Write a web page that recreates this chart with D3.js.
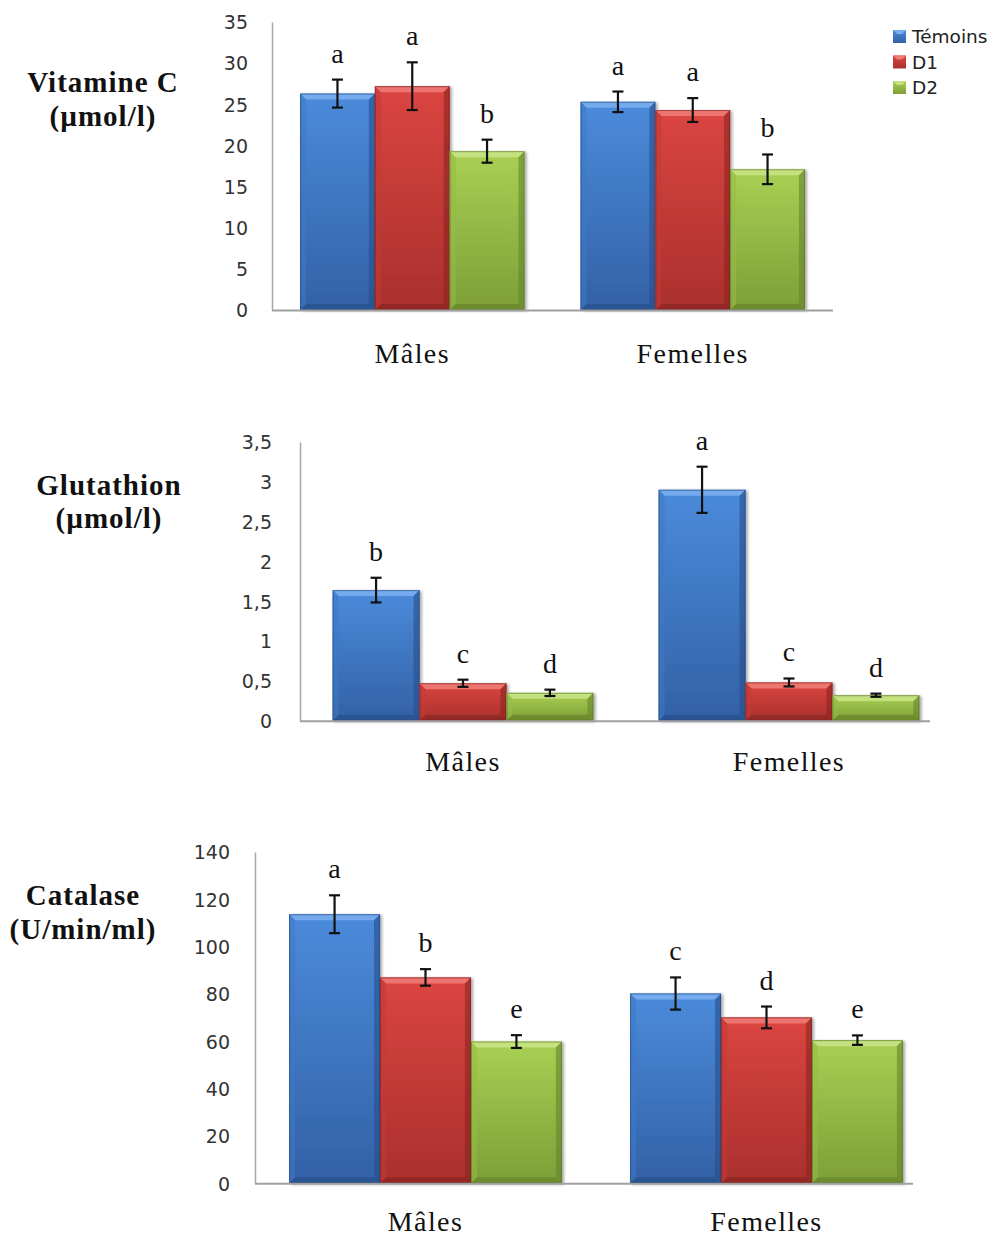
<!DOCTYPE html>
<html>
<head>
<meta charset="utf-8">
<script src="https://cdn.jsdelivr.net/npm/d3@7"></script>
<style>
  html, body { margin: 0; padding: 0; background: #fff; }
  svg { display: block; }
</style>
</head>
<body>
<svg id="chart" width="998" height="1236"></svg>
<script>
// Groups and treatments
const groups = ["Mâles", "Femelles"];
const series = ["Témoins", "D1", "D2"];

// Vitamine C (µmol/l): [Mâles, Femelles] per treatment
const vitCTemoins = [26.3, 25.3];
const vitCD1 = [27.2, 24.3];
const vitCD2 = [19.3, 17.1];
const vitCErrTemoins = [1.7, 1.25];
const vitCErrD1 = [2.9, 1.45];
const vitCErrD2 = [1.4, 1.8];
const vitCLetters = [["a", "a", "b"], ["a", "a", "b"]];
const vitCTicks = [0, 5, 10, 15, 20, 25, 30, 35];

// Glutathion (µmol/l)
const gluTemoins = [1.64, 2.90];
const gluD1 = [0.47, 0.48];
const gluD2 = [0.35, 0.32];
const gluErrTemoins = [0.155, 0.29];
const gluErrD1 = [0.045, 0.05];
const gluErrD2 = [0.04, 0.02];
const gluLetters = [["b", "c", "d"], ["a", "c", "d"]];
const gluTicks = [0, 0.5, 1, 1.5, 2, 2.5, 3, 3.5];

// Catalase (U/min/ml)
const catTemoins = [113.7, 80.2];
const catD1 = [87.0, 70.1];
const catD2 = [59.9, 60.5];
const catErrTemoins = [8, 6.8];
const catErrD1 = [3.5, 4.6];
const catErrD2 = [2.7, 2];
const catLetters = [["a", "b", "e"], ["c", "d", "e"]];
const catTicks = [0, 20, 40, 60, 80, 100, 120, 140];

const svg = d3.select("#chart");
const defs = svg.append("defs");

// Colour sets for the bevelled bars
const palette = {
  "Témoins": { top: "#4b8bdb", bot: "#3361a6", light: "#79aef0", side: "#3f78c4", dark: "#284f8a", edge: "#22467c" },
  "D1":      { top: "#db4541", bot: "#a9302c", light: "#ee7a76", side: "#c23a36", dark: "#8a2522", edge: "#7a201d" },
  "D2":      { top: "#a9d054", bot: "#7d9f37", light: "#c6e384", side: "#95bb48", dark: "#66832b", edge: "#5a7526" }
};

series.forEach((s, i) => {
  const c = palette[s];
  const g = defs.append("linearGradient").attr("id", "fill" + i)
    .attr("x1", 0).attr("y1", 0).attr("x2", 0).attr("y2", 1);
  g.append("stop").attr("offset", "0%").attr("stop-color", c.top);
  g.append("stop").attr("offset", "100%").attr("stop-color", c.bot);
});

const shadow = defs.append("filter").attr("id", "shadow")
  .attr("x", "-10%").attr("y", "-10%").attr("width", "130%").attr("height", "130%");
shadow.append("feGaussianBlur").attr("in", "SourceAlpha").attr("stdDeviation", 1.6);
shadow.append("feOffset").attr("dx", 2).attr("dy", 1).attr("result", "ob");
shadow.append("feComponentTransfer").append("feFuncA").attr("type", "linear").attr("slope", 0.35);
const merge = shadow.append("feMerge");
merge.append("feMergeNode");
merge.append("feMergeNode").attr("in", "SourceGraphic");

const fmtComma = d => String(d).replace(".", ",");

function drawPanel(cfg) {
  const g = svg.append("g");
  const values = [cfg.vals[0], cfg.vals[1], cfg.vals[2]];
  const errs = [cfg.errs[0], cfg.errs[1], cfg.errs[2]];

  const y = d3.scaleLinear().domain([0, cfg.max]).range([cfg.y0, cfg.y1]);
  const x0 = d3.scaleBand().domain(groups)
    .range([cfg.axisX, cfg.axisX + 2 * cfg.groupW])
    .paddingInner(0.2).paddingOuter(0.1);
  const x1 = d3.scaleBand().domain(series).range([0, x0.bandwidth()]).padding(0);

  // y axis: labels only, with a plain grey line
  const yAxis = d3.axisLeft(y).tickValues(cfg.ticks).tickSize(0).tickPadding(cfg.tickPad)
    .tickFormat(cfg.fmt);
  const ya = g.append("g").attr("transform", `translate(${cfg.axisX},0)`).call(yAxis);
  ya.select(".domain").attr("stroke", "#a6a6a6").attr("stroke-width", 1.5);
  ya.selectAll("text").attr("font-family", "DejaVu Sans, sans-serif")
    .attr("font-size", 19).attr("fill", "#333").attr("dy", "0.36em");

  // bars
  groups.forEach((grp, gi) => {
    series.forEach((s, si) => {
      const v = values[si][gi];
      const bx = x0(grp) + x1(s);
      const bw = x1.bandwidth();
      const by = y(v);
      const bh = y(0) - by;
      const c = palette[s];
      const b = 6; // bevel depth
      const bar = g.append("g").attr("filter", "url(#shadow)");
      bar.append("rect").attr("x", bx).attr("y", by).attr("width", bw).attr("height", bh)
        .attr("fill", `url(#fill${si})`);
      // bevel facets
      bar.append("polygon")
        .attr("points", [[bx, by], [bx + bw, by], [bx + bw - b, by + b], [bx + b, by + b]].join(" "))
        .attr("fill", c.light).attr("opacity", 0.9);
      bar.append("polygon")
        .attr("points", [[bx, by], [bx + b, by + b], [bx + b, by + bh - b], [bx, by + bh]].join(" "))
        .attr("fill", c.side).attr("opacity", 0.55);
      bar.append("polygon")
        .attr("points", [[bx + bw, by], [bx + bw, by + bh], [bx + bw - b, by + bh - b], [bx + bw - b, by + b]].join(" "))
        .attr("fill", c.dark).attr("opacity", 0.6);
      bar.append("polygon")
        .attr("points", [[bx, by + bh], [bx + b, by + bh - b], [bx + bw - b, by + bh - b], [bx + bw, by + bh]].join(" "))
        .attr("fill", c.dark).attr("opacity", 0.7);
      bar.append("rect").attr("x", bx + 0.5).attr("y", by + 0.5).attr("width", bw - 1).attr("height", bh - 1)
        .attr("fill", "none").attr("stroke", c.edge).attr("stroke-width", 1).attr("opacity", 0.6);

      // error bar
      const e = errs[si][gi];
      const cx = bx + bw / 2;
      const yt = y(v + e), yb = y(v - e);
      const eb = g.append("g").attr("stroke", "#111").attr("stroke-width", 2.2);
      eb.append("line").attr("x1", cx).attr("x2", cx).attr("y1", yt).attr("y2", yb);
      eb.append("line").attr("x1", cx - 5.5).attr("x2", cx + 5.5).attr("y1", yt).attr("y2", yt);
      eb.append("line").attr("x1", cx - 5.5).attr("x2", cx + 5.5).attr("y1", yb).attr("y2", yb);

      // significance letter
      g.append("text").attr("x", cx).attr("y", yt - 17)
        .attr("text-anchor", "middle")
        .attr("font-family", "Liberation Serif, Times New Roman, serif")
        .attr("font-size", 28).attr("fill", "#111")
        .text(cfg.letters[gi][si]);
    });
  });

  // baseline
  g.append("line").attr("x1", cfg.axisX).attr("x2", cfg.axisEnd)
    .attr("y1", y(0) + 0.5).attr("y2", y(0) + 0.5)
    .attr("stroke", "#a0a0a0").attr("stroke-width", 2);

  // category labels
  groups.forEach(grp => {
    g.append("text").attr("x", x0(grp) + x0.bandwidth() / 2).attr("y", cfg.catY)
      .attr("text-anchor", "middle")
      .attr("font-family", "Liberation Serif, Times New Roman, serif")
      .attr("font-size", 28).attr("letter-spacing", 1.4).attr("fill", "#111")
      .text(grp);
  });

  // axis title (two lines, bold serif)
  cfg.title.forEach((t, i) => {
    g.append("text").attr("x", cfg.titleX).attr("y", cfg.titleY + i * cfg.titleGap)
      .attr("text-anchor", "middle")
      .attr("font-family", "Liberation Serif, Times New Roman, serif")
      .attr("font-weight", "bold").attr("font-size", 29).attr("letter-spacing", 1)
      .attr("fill", "#111")
      .text(t);
  });
}

drawPanel({
  vals: [vitCTemoins, vitCD1, vitCD2],
  errs: [vitCErrTemoins, vitCErrD1, vitCErrD2],
  letters: vitCLetters, ticks: vitCTicks, max: 35, fmt: fmtComma,
  y0: 310, y1: 22, axisX: 272, groupW: 280.5, axisEnd: 833, tickPad: 24,
  catY: 363, title: ["Vitamine C", "(µmol/l)"], titleX: 103, titleY: 92, titleGap: 34
});

drawPanel({
  vals: [gluTemoins, gluD1, gluD2],
  errs: [gluErrTemoins, gluErrD1, gluErrD2],
  letters: gluLetters, ticks: gluTicks, max: 3.5, fmt: fmtComma,
  y0: 720.7, y1: 442, axisX: 300, groupW: 326, axisEnd: 930, tickPad: 28,
  catY: 771, title: ["Glutathion", "(µmol/l)"], titleX: 109, titleY: 495, titleGap: 33
});

drawPanel({
  vals: [catTemoins, catD1, catD2],
  errs: [catErrTemoins, catErrD1, catErrD2],
  letters: catLetters, ticks: catTicks, max: 140, fmt: fmtComma,
  y0: 1183.3, y1: 852, axisX: 255, groupW: 341, axisEnd: 913, tickPad: 25,
  catY: 1231, title: ["Catalase", "(U/min/ml)"], titleX: 83, titleY: 905, titleGap: 34
});

// legend
const legend = svg.append("g").attr("transform", "translate(893,30)");
series.forEach((s, i) => {
  const c = palette[s];
  const row = legend.append("g").attr("transform", `translate(0,${i * 25.5})`);
  row.append("rect").attr("width", 13).attr("height", 13).attr("fill", `url(#fill${i})`);
  row.append("polygon").attr("points", "0,0 13,0 9,4 4,4").attr("fill", c.light);
  row.append("text").attr("x", 19).attr("y", 6.5).attr("dy", "0.36em")
    .attr("font-family", "DejaVu Sans, sans-serif").attr("font-size", 18.5).attr("fill", "#222")
    .text(s);
});
</script>
</body>
</html>
